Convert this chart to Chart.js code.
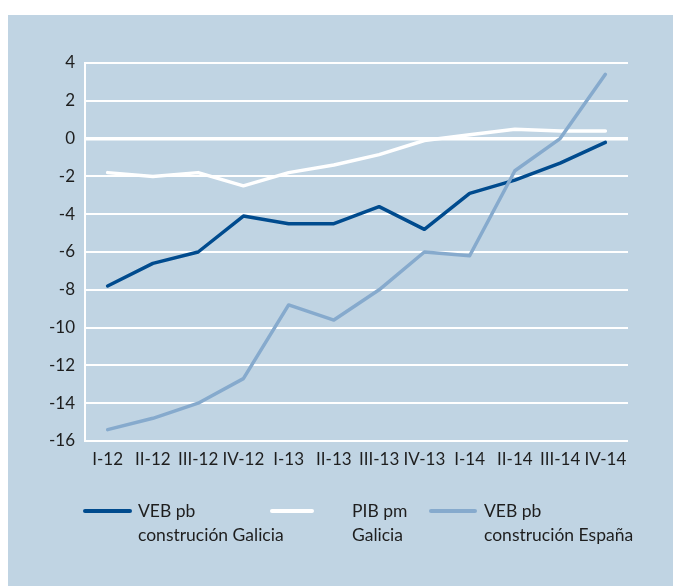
<!DOCTYPE html>
<html>
<head>
<meta charset="utf-8">
<script src="https://cdn.jsdelivr.net/npm/chart.js@4"></script>
<style>
  html, body { margin: 0; padding: 0; background: #ffffff; }
  #wrap { width: 673px; height: 586px; position: relative; }
</style>
</head>
<body>
<div id="wrap"><canvas id="c" width="673" height="586"></canvas></div>
<script>
// Quarterly year-on-year rates (%)
const quarters = ['I-12','II-12','III-12','IV-12','I-13','II-13','III-13','IV-13','I-14','II-14','III-14','IV-14'];
const vebGalicia = [-7.8, -6.6, -6.0, -4.1, -4.5, -4.5, -3.6, -4.8, -2.9, -2.2, -1.3, -0.2];
const pibGalicia = [-1.8, -2.0, -1.8, -2.5, -1.8, -1.4, -0.85, -0.1, 0.2, 0.5, 0.4, 0.4];
const vebEspana  = [-15.4, -14.8, -14.0, -12.7, -8.8, -9.6, -8.0, -6.0, -6.2, -1.7, 0.0, 3.4];
const legendLabels = [
  ['VEB pb', 'construción Galicia'],
  ['PIB pm', 'Galicia'],
  ['VEB pb', 'construción España']
];
const yMin = -16, yMax = 4, yStep = 2;

const FONT = 'Lato, "Open Sans", sans-serif';
const TEXT = '#1e1e1e';
const PANEL = '#c0d4e3';
const colors = ['#004b8e', '#ffffff', '#86aacd'];

// Panel background behind the chart
const panelBg = {
  id: 'panelBg',
  beforeDraw(chart) {
    const ctx = chart.ctx;
    ctx.save();
    ctx.fillStyle = '#ffffff';
    ctx.fillRect(0, 0, chart.width, chart.height);
    ctx.fillStyle = PANEL;
    ctx.fillRect(8, 15, chart.width - 8, chart.height - 15);
    ctx.restore();
  }
};

// Legend row below the axis, with two-line labels
const bottomLegend = {
  id: 'bottomLegend',
  afterDraw(chart) {
    const ctx = chart.ctx;
    const items = [
      { x: 85, w: 45, tx: 138 },
      { x: 272, w: 40, tx: 352 },
      { x: 431, w: 44, tx: 484 }
    ];
    const y1 = 511, lh = 24;
    ctx.save();
    ctx.font = '17.5px ' + FONT;
    ctx.fillStyle = TEXT;
    ctx.textBaseline = 'middle';
    ctx.textAlign = 'left';
    chart.data.datasets.forEach((ds, i) => {
      const it = items[i];
      ctx.strokeStyle = ds.borderColor;
      ctx.lineWidth = 4;
      ctx.lineCap = 'round';
      ctx.beginPath();
      ctx.moveTo(it.x, y1);
      ctx.lineTo(it.x + it.w, y1);
      ctx.stroke();
      ds.legendText.forEach((t, k) => ctx.fillText(t, it.tx, y1 + k * lh));
    });
    ctx.restore();
  }
};

new Chart(document.getElementById('c'), {
  type: 'line',
  data: {
    labels: quarters,
    datasets: [
      { label: legendLabels[0].join(' '), legendText: legendLabels[0], data: vebGalicia, borderColor: colors[0], order: 2 },
      { label: legendLabels[1].join(' '), legendText: legendLabels[1], data: pibGalicia, borderColor: colors[1], order: 1 },
      { label: legendLabels[2].join(' '), legendText: legendLabels[2], data: vebEspana, borderColor: colors[2], order: 0 }
    ].map(d => Object.assign(d, { borderWidth: 3.5, pointRadius: 0, tension: 0, fill: false, borderJoinStyle: 'round', borderCapStyle: 'round' }))
  },
  options: {
    responsive: false,
    animation: false,
    layout: { padding: { left: 0, right: 45, top: 63, bottom: 0 } },
    plugins: { legend: { display: false }, tooltip: { enabled: false } },
    scales: {
      x: {
        offset: true,
        grid: { display: false, drawTicks: false },
        border: { display: false },
        ticks: { color: TEXT, font: { family: FONT, size: 17 }, padding: 8, maxRotation: 0, autoSkip: false },
        afterFit(scale) { scale.height = 145; }
      },
      y: {
        min: yMin, max: yMax,
        grid: {
          color: '#ffffff',
          lineWidth: ctx => (ctx.tick && ctx.tick.value === 0 ? 3.5 : 2),
          drawTicks: false
        },
        border: { display: true, color: '#ffffff', width: 2 },
        ticks: { stepSize: yStep, color: TEXT, font: { family: FONT, size: 17 }, padding: 10 },
        afterFit(scale) { scale.width = 85; }
      }
    }
  },
  plugins: [panelBg, bottomLegend]
});
</script>
</body>
</html>
